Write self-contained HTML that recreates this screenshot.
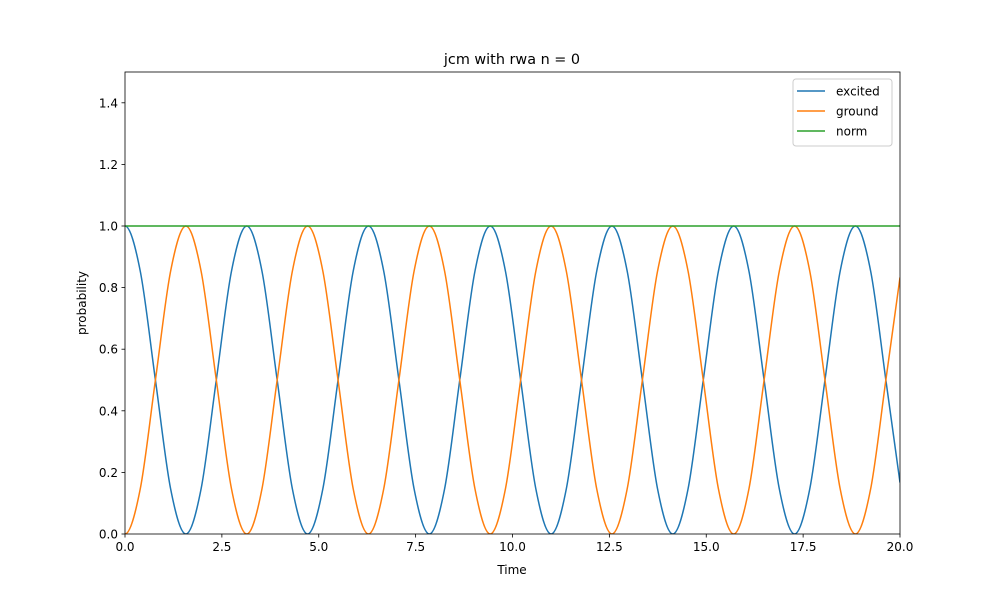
<!DOCTYPE html>
<html><head><meta charset="utf-8"><style>
body{margin:0;background:#fff}
svg text{font-family:"DejaVu Sans","Liberation Sans",sans-serif;font-size:12px;fill:#000}
</style></head><body>
<svg id="chart" width="1000" height="600" xmlns="http://www.w3.org/2000/svg">
<rect width="1000" height="600" fill="#fff"/>
<text x="512" y="64" text-anchor="middle" style="font-size:14.4px">jcm with rwa n = 0</text>
<text x="512" y="574" text-anchor="middle">Time</text>
<text x="86" y="303" text-anchor="middle" transform="rotate(-90 86 303)">probability</text>
<g id="plot"></g>
<g id="axes"></g>
<g id="legend"></g>
</svg>
<script>
const times=[0,0.393,0.785,1.178,1.571,1.963,2.356,2.749,3.142,3.534,3.927,4.320,4.712,5.105,5.498,5.890,6.283,6.676,7.069,7.461,7.854,8.247,8.639,9.032,9.425,9.817,10.210,10.603,10.996,11.388,11.781,12.174,12.566,12.959,13.352,13.744,14.137,14.530,14.923,15.315,15.708,16.101,16.493,16.886,17.279,17.671,18.064,18.457,18.850,19.242,19.635,20];
const excited=[1,.854,.5,.146,0,.146,.5,.854,1,.854,.5,.146,0,.146,.5,.854,1,.854,.5,.146,0,.146,.5,.854,1,.854,.5,.146,0,.146,.5,.854,1,.854,.5,.146,0,.146,.5,.854,1,.854,.5,.146,0,.146,.5,.854,1,.854,.5,.167];
const ground=[0,.146,.5,.854,1,.854,.5,.146,0,.146,.5,.854,1,.854,.5,.146,0,.146,.5,.854,1,.854,.5,.146,0,.146,.5,.854,1,.854,.5,.146,0,.146,.5,.854,1,.854,.5,.146,0,.146,.5,.854,1,.854,.5,.146,0,.146,.5,.833];
const normTimes=[0,20];
const norm=[1,1];
const xTicks=[0,2.5,5,7.5,10,12.5,15,17.5,20];
const xTickLabels=["0.0","2.5","5.0","7.5","10.0","12.5","15.0","17.5","20.0"];
const yTicks=[0,0.2,0.4,0.6,0.8,1.0,1.2,1.4];
const yTickLabels=["0.0","0.2","0.4","0.6","0.8","1.0","1.2","1.4"];
const seriesNames=["excited","ground","norm"];
const colors=["#1f77b4","#ff7f0e","#2ca02c"];

const L=125,R=900,T=72,B=534,X0=0,X1=20,Y0=0,Y1=1.5;
const xs=v=>L+(v-X0)/(X1-X0)*(R-L);
const ys=v=>B-(v-Y0)/(Y1-Y0)*(B-T);
const NS="http://www.w3.org/2000/svg";
function mk(tag,attrs,parent){const e=document.createElementNS(NS,tag);for(const k in attrs)e.setAttribute(k,attrs[k]);parent.appendChild(e);return e;}
function smooth(tx,ty){
  const p=tx.map((t,i)=>[xs(t),ys(ty[i])]);
  const n=p.length;
  let d="M"+p[0][0]+","+p[0][1];
  for(let i=0;i<n-1;i++){
    const p1=p[i],p2=p[i+1];
    const p0=i>0?p[i-1]:[2*p1[0]-p2[0],p2[1]];
    const p3=i+2<n?p[i+2]:[2*p2[0]-p1[0],2*p2[1]-p1[1]];
    const c1=[p1[0]+(p2[0]-p0[0])/6,p1[1]+(p2[1]-p0[1])/6];
    const c2=[p2[0]-(p3[0]-p1[0])/6,p2[1]-(p3[1]-p1[1])/6];
    d+="C"+c1+" "+c2+" "+p2;
  }
  return d;
}
const plot=document.getElementById('plot');
const axes=document.getElementById('axes');
const clip=mk('clipPath',{id:'cp'},plot);mk('rect',{x:L,y:T,width:R-L,height:B-T},clip);
const g=mk('g',{'clip-path':'url(#cp)'},plot);
const data=[[times,excited],[times,ground],[normTimes,norm]];
data.forEach((s,i)=>{
  const path=mk('path',{d:smooth(s[0],s[1]),fill:'none',stroke:colors[i],'stroke-width':1.5},g);
  
  
});
const frame=mk('rect',{x:L,y:T,width:R-L,height:B-T,fill:'none',stroke:'#000','stroke-width':0.8},axes);


xTicks.forEach((v,i)=>{
  mk('line',{x1:xs(v),x2:xs(v),y1:B,y2:B+3.5,stroke:'#000','stroke-width':0.8},axes);
  const t=mk('text',{x:xs(v),y:B+17,'text-anchor':'middle'},axes);t.textContent=xTickLabels[i];
  
  
});
yTicks.forEach((v,i)=>{
  mk('line',{x1:L-3.5,x2:L,y1:ys(v),y2:ys(v),stroke:'#000','stroke-width':0.8},axes);
  const t=mk('text',{x:L-7,y:ys(v)+4.5,'text-anchor':'end'},axes);t.textContent=yTickLabels[i];
  
  
});
const lg=document.getElementById('legend');
mk('rect',{x:793,y:79,width:99,height:67,rx:3,fill:'#fff','fill-opacity':0.8,stroke:'#ccc','stroke-width':1},lg);
seriesNames.forEach((n,i)=>{
  const y=91+i*20;
  mk('line',{x1:797,x2:825,y1:y,y2:y,stroke:colors[i],'stroke-width':1.5},lg);
  const t=mk('text',{x:836,y:y+4.5},lg);t.textContent=n;
  
  
});
</script>
</body></html>
